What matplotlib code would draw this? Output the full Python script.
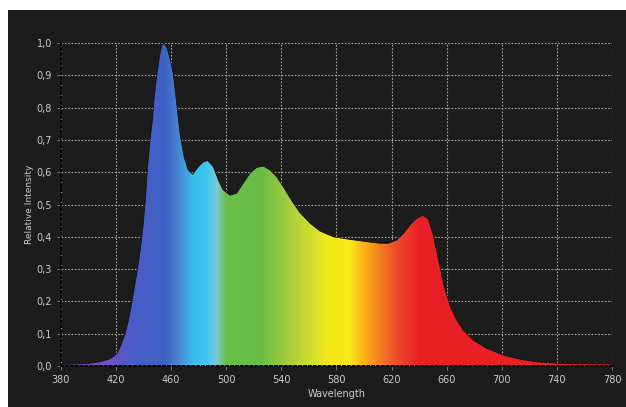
import numpy as np
import matplotlib
matplotlib.use("Agg")
import matplotlib.pyplot as plt
from matplotlib.colors import LinearSegmentedColormap
from matplotlib.patches import Rectangle

# spectrum (wavelength in nm, relative intensity)
wavelength = [380, 390, 400, 408, 414, 418, 421, 423, 425, 426.5, 428, 429, 430, 431.3,
              432.5, 433.7, 435, 436.1, 437.5, 438.6, 439.7, 441.5, 442.9, 444.6, 446.3,
              447.7, 449.5, 451.4, 453, 454.3, 455.5, 457, 458.6, 460, 461.5, 464, 466.4,
              469.3, 472.4, 475.6, 479.7, 483.3, 486.5, 490.6, 494.2, 497.8, 502.7, 507.5,
              512.3, 517.2, 522.1, 526.9, 531.7, 536.6, 541.4, 547.5, 553.5, 560.8, 568,
              577.7, 589.8, 601.9, 611.6, 617.7, 623.7, 628.5, 633.4, 638.2, 642.6, 646.7,
              650, 652, 654, 656, 658, 660, 663, 667, 672, 679.3, 689, 701.1, 713.2, 725.3,
              742.3, 760, 780]
intensity = [0.005, 0.006, 0.008, 0.013, 0.02, 0.029, 0.042, 0.06, 0.082, 0.10, 0.125, 0.142,
             0.165, 0.194, 0.225, 0.256, 0.287, 0.318, 0.36, 0.40, 0.44, 0.53, 0.62, 0.70,
             0.76, 0.834, 0.90, 0.958, 0.99, 1.0, 0.995, 0.985, 0.96, 0.935, 0.906, 0.813,
             0.72, 0.648, 0.607, 0.594, 0.617, 0.632, 0.636, 0.617, 0.576, 0.545, 0.529,
             0.535, 0.566, 0.597, 0.615, 0.619, 0.607, 0.586, 0.555, 0.512, 0.475, 0.442,
             0.418, 0.40, 0.392, 0.385, 0.38, 0.38, 0.39, 0.41, 0.437, 0.457, 0.467, 0.455,
             0.41, 0.37, 0.33, 0.29, 0.25, 0.22, 0.18, 0.145, 0.111, 0.08, 0.055, 0.034,
             0.021, 0.013, 0.008, 0.007, 0.006]

# colour stops of the rainbow fill
stop_nm = [380, 415, 430, 455, 465, 475, 485, 493, 499, 525, 545, 565, 575, 590, 600,
           612, 625, 640, 780]
stop_col = ["#7a3fa8", "#6e52c4", "#4a5cc8", "#3f62c4", "#4a86d0", "#36bdec", "#3cc6ee",
            "#78cad8", "#6dbf48", "#68bc45", "#a6cd3c", "#d8e02a", "#f7ea17", "#f8e81c",
            "#fbb217", "#f47f21", "#ee4a2c", "#e92127", "#e82026"]

xticks = [380, 420, 460, 500, 540, 580, 620, 660, 700, 740, 780]
yticks = [0.0, 0.1, 0.2, 0.3, 0.4, 0.5, 0.6, 0.7, 0.8, 0.9, 1.0]
ylabels = [f"{v:.1f}".replace(".", ",") for v in yticks]

bg = "#1c1c1c"
txt = "#cccccc"

fig = plt.figure(figsize=(6.26, 4.07), dpi=100, facecolor="white")
fig.patches.append(Rectangle((8 / 626, 0), 1, 1 - 10 / 407, transform=fig.transFigure,
                             facecolor=bg, edgecolor="none", zorder=-5))
ax = fig.add_axes([61 / 626, 41 / 407, 551 / 626, 323 / 407])
ax.set_facecolor(bg)

cmap = LinearSegmentedColormap.from_list(
    "spec", [((n - 380) / 400, c) for n, c in zip(stop_nm, stop_col)])
grad = np.linspace(0, 1, 800).reshape(1, -1)
im = ax.imshow(grad, cmap=cmap, aspect="auto", extent=[380, 780, 0, 1],
               origin="lower", zorder=1, interpolation="bilinear")
fill = ax.fill_between(wavelength, intensity, 0, facecolor="none", edgecolor="none")
clip = fill.get_paths()[0]
im.set_clip_path(clip, transform=ax.transData)
ax.plot(wavelength, intensity, color="#101010", lw=0.6, zorder=2)

ax.set_xlim(380, 780)
ax.set_ylim(0, 1.0)
ax.set_xticks(xticks)
ax.set_yticks(yticks)
ax.set_yticklabels(ylabels)
ax.set_axisbelow(True)
ax.grid(True, color="#a8a8a8", lw=0.8, linestyle=(0, (1.5, 1.5)))

for s in ["top", "right"]:
    ax.spines[s].set_visible(False)
for s in ["left", "bottom"]:
    ax.spines[s].set_color("#050505")
    ax.spines[s].set_linestyle((0, (1, 1.5)))
    ax.spines[s].set_linewidth(1.4)

ax.tick_params(colors="#8a8a8a", labelcolor=txt, labelsize=7, length=3, width=0.6)
ax.set_xlabel("Wavelength", color=txt, fontsize=7, labelpad=3)
ax.set_ylabel("Relative Intensity", color=txt, fontsize=6.5, labelpad=2)

fig.savefig("out.png", dpi=100, facecolor=fig.get_facecolor())
